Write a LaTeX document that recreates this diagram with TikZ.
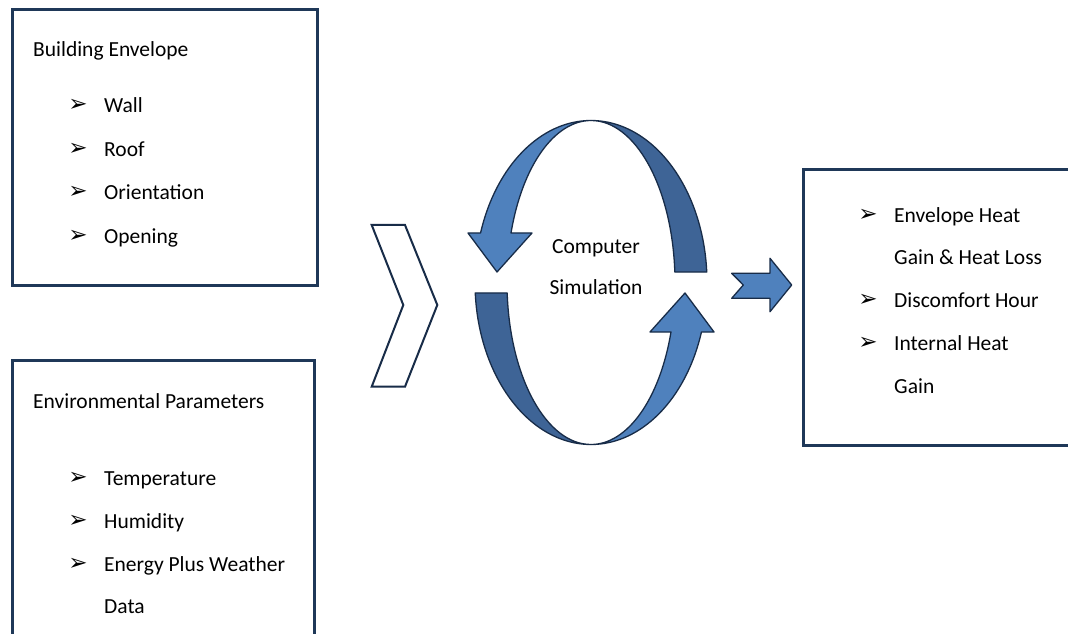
\documentclass[tikz,border=0pt]{standalone}
\usepackage{fontspec}
\setmainfont{Carlito}
\newfontfamily\symf{DejaVu Sans}
\usetikzlibrary{calc}
\definecolor{boxline}{RGB}{31,56,88}
\definecolor{lightblue}{RGB}{79,129,189}
\definecolor{darkblue}{RGB}{62,100,150}
\definecolor{arrline}{RGB}{24,44,72}
\tikzset{
  frame/.style={draw=boxline, line width=3pt},
  txt/.style={anchor=west, inner sep=0pt, text height=1.45ex, text depth=.35ex, font=\fontsize{21.5pt}{24pt}\selectfont},
  ctxt/.style={anchor=center, inner sep=0pt, text height=1.45ex, text depth=.35ex, font=\fontsize{21.5pt}{24pt}\selectfont},
  bul/.style={anchor=center, inner sep=0pt, font=\symf\fontsize{23pt}{26pt}\selectfont},
  lightpart/.style={fill=lightblue, draw=arrline, line width=1.3pt, line join=round},
  darkpart/.style={fill=darkblue, draw=arrline, line width=1.3pt, line join=round},
  chev/.style={fill=white, draw=arrline, line width=2pt, line join=miter},
}
\begin{document}
\begin{tikzpicture}[x=1pt,y=1pt]
\path[use as bounding box, clip] (0,0) rectangle (1068,633);
\fill[white] (0,0) rectangle (1068,633);

% boxes
\draw[frame] (12,623) rectangle (317,348);
\draw[frame] (12,273) rectangle (314,-10);
\draw[frame] (803,463) rectangle (1090,188);

% box 1 text
\node[txt] (be) at (33,579) {Building Envelope};
\node[bul] (b1) at (78,528) {➢};
\node[txt] (t1) at (104,523) {Wall};
\node[bul] (b2) at (78,484) {➢};
\node[txt] (t2) at (104,479) {Roof};
\node[bul] (b3) at (78,441) {➢};
\node[txt] (t3) at (104,436) {Orientation};
\node[bul] (b4) at (78,397) {➢};
\node[txt] (t4) at (104,392) {Opening};

% box 2 text
\node[txt] (ep) at (33,227) {Environmental Parameters};
\node[bul] (b5) at (78,155) {➢};
\node[txt] (t5) at (104,150) {Temperature};
\node[bul] (b6) at (78,112) {➢};
\node[txt] (t6) at (104,107) {Humidity};
\node[bul] (b7) at (78,69) {➢};
\node[txt] (t7) at (104,64) {Energy Plus Weather};
\node[txt] (t8) at (104,22) {Data};

% box 3 text
\node[bul] (r1) at (868,418) {➢};
\node[txt] (s1) at (894,413) {Envelope Heat};
\node[txt] (s2) at (894,371) {Gain \& Heat Loss};
\node[bul] (r2) at (868,333) {➢};
\node[txt] (s3) at (894,328) {Discomfort Hour};
\node[bul] (r3) at (868,290) {➢};
\node[txt] (s4) at (894,285) {Internal Heat};
\node[txt] (s5) at (894,242) {Gain};

% chevron
\draw[chev] (371.7,408) -- (405,408) -- (437.3,328) -- (405,246.3) -- (371.7,246.3) -- (403.3,328) -- cycle;

% cycle arrows
\coordinate (C) at (591,350.5);
\foreach \rot in {0,180}{
\begin{scope}[rotate around={\rot:(C)}]
  \path[darkpart] ($(C)+(3.7:116pt and 162pt)$)
    arc[start angle=3.7, end angle=90, x radius=116pt, y radius=162pt]
    arc[start angle=90, end angle=3.7, x radius=84pt, y radius=162pt] -- cycle;
  \path[lightpart] ($(C)+(90:116pt and 162pt)$)
    arc[start angle=90, end angle=162.2, x radius=116pt, y radius=162pt]
    -- ($(C)+(-123,49.5)$) -- ($(C)+(-94,10.5)$) -- ($(C)+(-59,49.5)$)
    -- ($(C)+(162.2:84pt and 162pt)$)
    arc[start angle=162.2, end angle=90, x radius=84pt, y radius=162pt] -- cycle;
\end{scope}
}

\node[ctxt] (cs1) at (596,382) {Computer};
\node[ctxt] (cs2) at (596,341) {Simulation};

% block arrow
\path[lightpart] (731.7,359.7) -- (770,359.7) -- (770,374.7) -- (791.7,348) -- (770,321.3) -- (770,334.7) -- (731.7,334.7) -- (743.3,348) -- cycle;
\end{tikzpicture}
\end{document}
